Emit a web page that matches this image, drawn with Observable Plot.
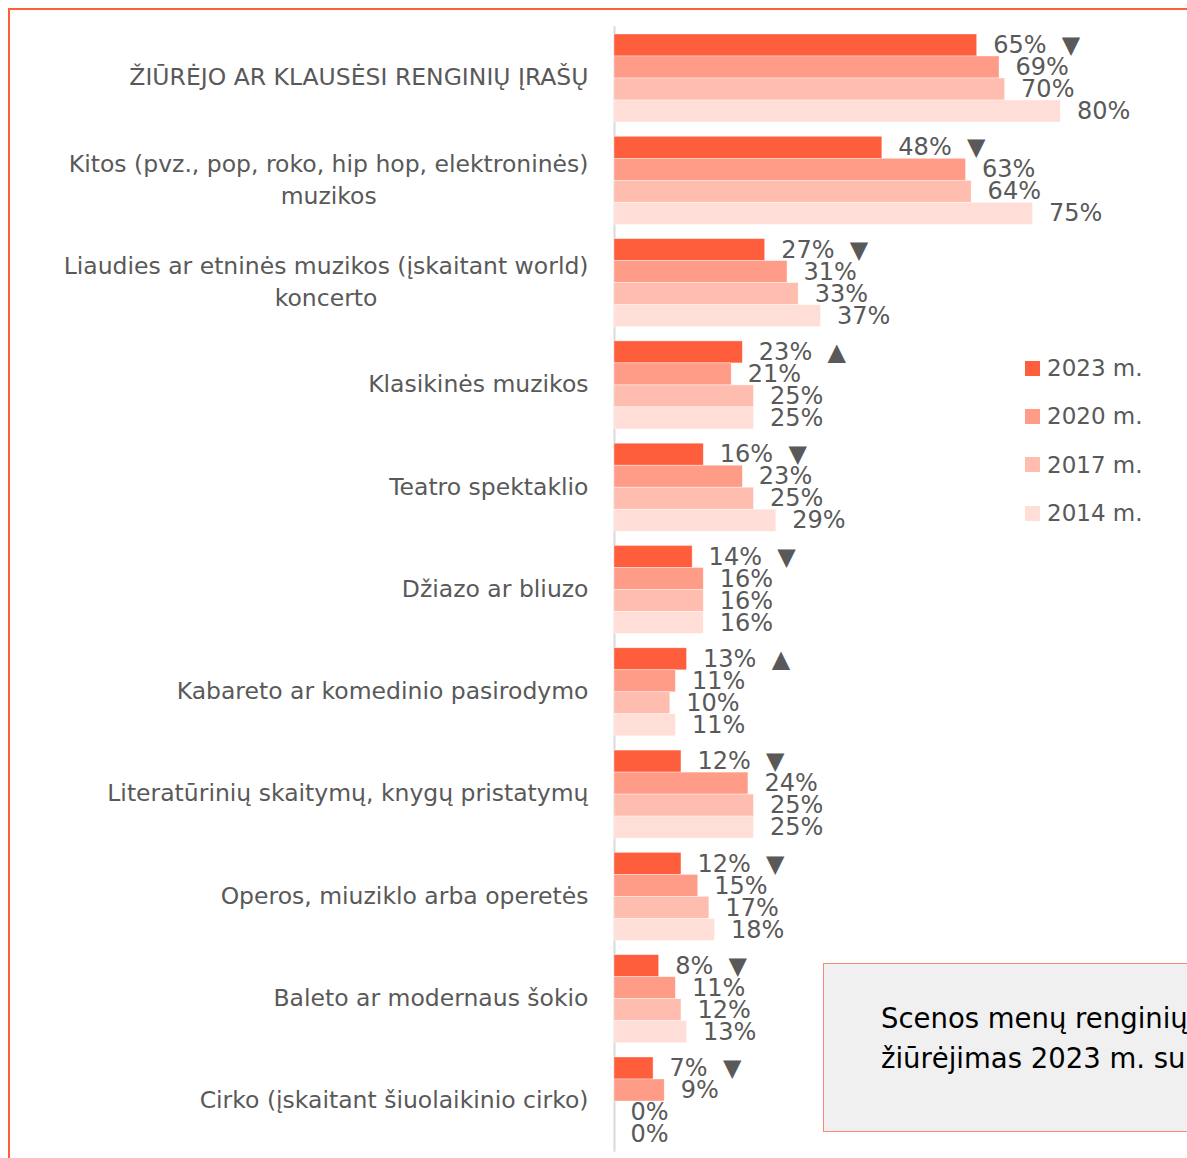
<!DOCTYPE html>
<html>
<head>
<meta charset="utf-8">
<script src="https://cdn.jsdelivr.net/npm/d3@7"></script>
<script src="https://cdn.jsdelivr.net/npm/@observablehq/plot@0.6"></script>
<style>
  html, body { margin: 0; padding: 0; background: #fff; overflow: hidden; }
  #wrap { position: relative; width: 1187px; height: 1158px; overflow: hidden; font-family: "DejaVu Sans", sans-serif; }
  #frame { position: absolute; left: 8px; top: 8px; width: 1400px; height: 1400px; border-top: 2px solid #FF5E3A; border-left: 2px solid #FF5E3A; box-sizing: border-box; }
  #chart { position: absolute; left: 0; top: 0; }
  #legend { position: absolute; left: 1025px; top: 344px; }
  .lg { display: flex; align-items: center; height: 48.3px; font-size: 23px; color: #595959; }
  .sw { width: 15px; height: 15px; margin-right: 7px; }
  #note { position: absolute; left: 823px; top: 963px; width: 500px; height: 169px; box-sizing: border-box;
          background: #F0F0F0; border: 1.5px solid #F98B76; }
  #note div { position: absolute; left: 57px; top: 33.5px; font-size: 27.5px; line-height: 40px; color: #000; white-space: nowrap; }
</style>
</head>
<body>
<div id="wrap">
  <div id="frame"></div>
  <div id="chart"></div>
  <div id="legend"></div>
  <div id="note"><div>Scenos menų renginių<br>žiūrėjimas 2023 m. sumažėjo</div></div>
</div>
<script>
const categories = [
  "ŽIŪRĖJO AR KLAUSĖSI RENGINIŲ ĮRAŠŲ",
  "Kitos (pvz., pop, roko, hip hop, elektroninės)\nmuzikos",
  "Liaudies ar etninės muzikos (įskaitant world)\nkoncerto",
  "Klasikinės muzikos",
  "Teatro spektaklio",
  "Džiazo ar bliuzo",
  "Kabareto ar komedinio pasirodymo",
  "Literatūrinių skaitymų, knygų pristatymų",
  "Operos, miuziklo arba operetės",
  "Baleto ar modernaus šokio",
  "Cirko (įskaitant šiuolaikinio cirko)"
];
const years = ["2023 m.", "2020 m.", "2017 m.", "2014 m."];
const values2023 = [65, 48, 27, 23, 16, 14, 13, 12, 12, 8, 7];
const values2020 = [69, 63, 31, 21, 23, 16, 11, 24, 15, 11, 9];
const values2017 = [70, 64, 33, 25, 25, 16, 10, 25, 17, 12, 0];
const values2014 = [80, 75, 37, 25, 29, 16, 11, 25, 18, 13, 0];
const trend2023 = ["▼", "▼", "▼", "▲", "▼", "▼", "▲", "▼", "▼", "▼", "▼"];
const colors = ["#FF5E3C", "#FF9C88", "#FFBDB0", "#FFDED8"];

const series = [values2023, values2020, values2017, values2014];
const data = [];
categories.forEach((c, i) => {
  years.forEach((y, j) => {
    const v = series[j][i];
    data.push({
      category: c,
      year: y,
      value: v,
      label: j === 0 ? `${v}%\u00a0\u00a0${trend2023[i]}` : `${v}%`
    });
  });
});

const chart = Plot.plot({
  width: 1187,
  height: 1158,
  marginLeft: 614,
  marginRight: 15,
  marginTop: 33,
  marginBottom: 13,
  style: { fontFamily: "DejaVu Sans, sans-serif", color: "#595959", background: "transparent", overflow: "visible" },
  x: { domain: [0, 100], axis: null },
  y: { domain: years, axis: null, padding: 0 },
  fy: { domain: categories, paddingInner: 0.13, paddingOuter: 0, round: false },
  color: { domain: years, range: colors },
  marks: [
    Plot.ruleX([0], { stroke: "#D9D9D9", strokeWidth: 2, insetTop: -6.7, insetBottom: -6.7 }),
    Plot.barX(data, { x: "value", y: "year", fy: "category", fill: "year", stroke: "#fff", strokeWidth: 0.6, strokeOpacity: 0.6 }),
    Plot.text(data, { x: "value", y: "year", fy: "category", text: "label", textAnchor: "start", dx: 16, fontSize: 24, fill: "#595959" }),
    Plot.axisFy({ anchor: "left", tickSize: 0, tickPadding: 26, dy: -3, fontSize: 23.5, lineHeight: 1.37, label: null, fill: "#595959" })
  ]
});
document.getElementById("chart").appendChild(chart);

// center lines of multi-line category labels within their right-aligned block
chart.querySelectorAll("text").forEach(t => {
  const spans = t.querySelectorAll("tspan");
  if (spans.length > 1) {
    const ws = Array.from(spans, s => s.getComputedTextLength());
    const W = Math.max(...ws);
    spans.forEach((s, k) => s.setAttribute("x", -(W - ws[k]) / 2));
  }
});

const legend = document.getElementById("legend");
years.forEach((y, j) => {
  const row = document.createElement("div");
  row.className = "lg";
  const sw = document.createElement("div");
  sw.className = "sw";
  sw.style.background = colors[j];
  row.appendChild(sw);
  row.appendChild(document.createTextNode(y));
  legend.appendChild(row);
});
</script>
</body>
</html>
